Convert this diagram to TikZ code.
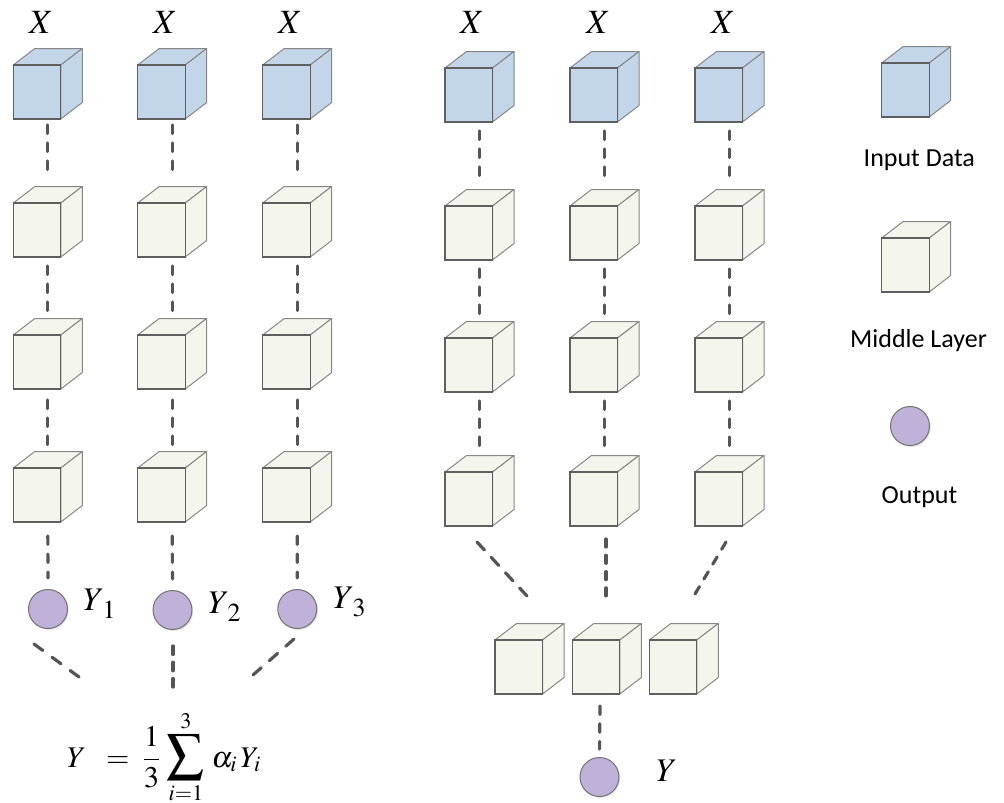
\documentclass[tikz,border=0pt]{standalone}
\usepackage{mathptmx}
\usepackage{graphicx}
\usepackage[no-math]{fontspec}
\newfontfamily\legendfont{Carlito}
\usetikzlibrary{shadows,calc}
\definecolor{cubeblue}{RGB}{195,213,233}
\definecolor{cubecream}{RGB}{244,245,236}
\definecolor{outpurple}{RGB}{191,177,216}
\definecolor{edgedark}{RGB}{95,95,95}
\definecolor{edgelight}{RGB}{135,135,135}
\definecolor{dashgray}{RGB}{85,85,85}
\tikzset{
  cubebox/.style={minimum width=69pt, minimum height=70.5pt, inner sep=0pt, outer sep=0pt},
  link/.style={draw=dashgray, line width=3.2pt, line cap=round, dash pattern=on 8.5pt off 9.5pt},
  outnode/.style={circle, minimum size=39pt, inner sep=0pt, fill=outpurple, draw=edgelight!85!black, line width=1pt,
    drop shadow={shadow xshift=1.2pt, shadow yshift=-1.5pt, fill=black!22}},
  mathlab/.style={inner sep=0pt, font=\fontsize{33}{40}\selectfont},
  xlab/.style={inner sep=0pt, anchor=base, font=\fontsize{34}{40}\selectfont},
  legend/.style={inner sep=0pt, anchor=base, font=\legendfont\fontsize{26}{30}\selectfont}
}
\newcommand{\mycube}[4]{%
  \node[cubebox] (#1) at (#2+34.5, #3+18.75) {};
  \filldraw[fill=#4, draw=edgelight, line width=1pt, line join=round]
    ($(#1.south west)+(0,-54)$) -- ++(21.5,-16.5) -- ++(47.5,0) -- ++(-21.5,16.5) -- cycle;
  \filldraw[fill=#4, draw=edgelight, line width=1pt, line join=round]
    ($(#1.south west)+(47.5,0)$) -- ++(21.5,-16.5) -- ++(0,-54) -- ++(-21.5,16.5) -- cycle;
  \filldraw[fill=#4, draw=edgedark, line width=1.3pt] (#1.south west) rectangle ++(47.5,-54);
}
\newcommand{\ysub}[1]{$Y$\kern-1.5pt\raisebox{-8pt}{\fontsize{26}{30}\selectfont$#1$}}
\begin{document}
\begin{tikzpicture}[x=1pt,y=-1pt]
\useasboundingbox (0,0) rectangle (1004,803);

% ---------- left group ----------
\foreach \c/\x in {1/13.3,2/137.7,3/262.7}{
  \mycube{L\c1}{\x}{65}{cubeblue}
  \mycube{L\c2}{\x}{203}{cubecream}
  \mycube{L\c3}{\x}{335}{cubecream}
  \mycube{L\c4}{\x}{468}{cubecream}
}
\foreach \c in {1,2,3}{
  \draw[link, shorten <=6pt, shorten >=8pt] (L\c1.south) -- (L\c2.north);
  \draw[link, shorten <=9pt, shorten >=7.5pt] (L\c2.south) -- (L\c3.north);
  \draw[link, shorten <=11pt, shorten >=6pt] (L\c3.south) -- (L\c4.north);
}
\node[xlab] (XL1) at (41,33) {$X$};
\node[xlab] (XL2) at (165,33) {$X$};
\node[xlab] (XL3) at (290,33) {$X$};

\node[outnode] (Y1) at (48,609) {};
\node[outnode] (Y2) at (172.5,610) {};
\node[outnode] (Y3) at (297.3,609) {};
\foreach \c in {1,2,3}{
  \draw[link, shorten <=14pt, shorten >=11pt] (L\c4.south) -- (Y\c.north);
}
\node[mathlab, anchor=base west] (Y1l) at (83,610) {\ysub{1}};
\node[mathlab, anchor=base west] (Y2l) at (208,613) {\ysub{2}};
\node[mathlab, anchor=base west] (Y3l) at (333,608) {\ysub{3}};

\coordinate (f1a) at (34,644);
\coordinate (f1b) at (79,677);
\coordinate (f2a) at (173,646);
\coordinate (f2b) at (173,687);
\coordinate (f3a) at (294,639);
\coordinate (f3b) at (253,675);
\draw[link, dash pattern=on 11pt off 11.4pt] (f1a) -- (f1b);
\draw[link, dash pattern=on 8.5pt off 7.75pt] (f2a) -- (f2b);
\draw[link, dash pattern=on 11pt off 10.8pt] (f3a) -- (f3b);
\node[inner sep=0pt, anchor=base west, font=\fontsize{30}{36}\selectfont] (F) at (67,767)
  {$\displaystyle Y\;\;=\;\frac{1}{3}\,\mathop{\hbox{\fontsize{37}{44}\selectfont$\displaystyle\sum$}}\limits_{i=1}^{3}\,\alpha_i\,Y_i$};

% ---------- right group ----------
\foreach \c/\x in {1/445,2/570,3/695}{
  \mycube{R\c1}{\x}{68}{cubeblue}
  \mycube{R\c2}{\x}{206}{cubecream}
  \mycube{R\c3}{\x}{338}{cubecream}
  \mycube{R\c4}{\x}{472}{cubecream}
}
\foreach \c in {1,2,3}{
  \foreach \r/\s in {1/2,2/3,3/4}{
    \draw[link, shorten <=9pt, shorten >=8pt] (R\c\r.south) -- (R\c\s.north);
  }
}
\node[xlab] (XR1) at (472,33) {$X$};
\node[xlab] (XR2) at (598,33) {$X$};
\node[xlab] (XR3) at (723,33) {$X$};

\mycube{B1}{495}{640}{cubecream}
\mycube{B2}{572.3}{640}{cubecream}
\mycube{B3}{649.3}{640}{cubecream}

\coordinate (r1a) at (477,542);
\coordinate (r1b) at (527,596);
\coordinate (r2a) at (606,539);
\coordinate (r2b) at (606,596);
\coordinate (r3a) at (726,542);
\coordinate (r3b) at (695,594);
\draw[link, dash pattern=on 11pt off 9.9pt] (r1a) -- (r1b);
\draw[link, dash pattern=on 8pt off 8.3pt] (r2a) -- (r2b);
\draw[link, dash pattern=on 8.5pt off 8.8pt] (r3a) -- (r3b);

\node[outnode] (OY) at (599.5,777) {};
\coordinate (bt) at (600,706);
\draw[link, dash pattern=on 8.5pt off 9.25pt, shorten >=8pt] (bt) -- (OY.north);
\node[mathlab, anchor=base west] (OYl) at (656,781) {$Y$};

% ---------- legend ----------
\mycube{G1}{881.7}{63}{cubeblue}
\mycube{G2}{881.7}{238}{cubecream}
\node[outnode] (G3) at (910,426) {};
\node[legend] (T1) at (919.3,166) {Input Data};
\node[legend] (T2) at (918.5,347) {Middle Layer};
\node[legend] (T3) at (919.5,503) {Output};
\end{tikzpicture}
\end{document}
